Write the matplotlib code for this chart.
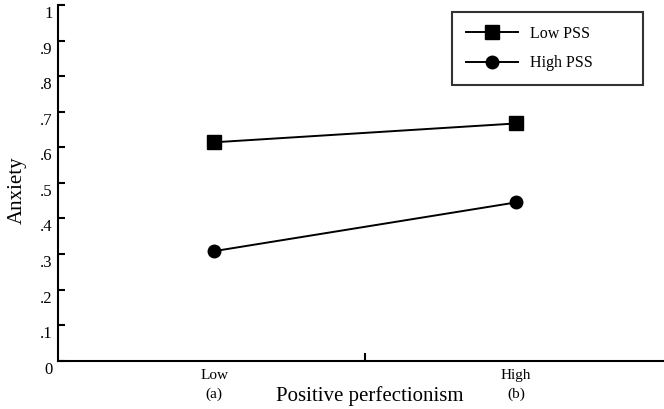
import numpy as np
import matplotlib.pyplot as plt
import matplotlib.transforms as mtransforms

plt.rcParams['font.family'] = ['Liberation Serif', 'DejaVu Serif']

# data
x_pos = [1, 2]
x_labels = ['Low\n(a)', 'High\n(b)']
low_pss = [0.614, 0.667]
high_pss = [0.308, 0.445]
y_ticks = [0, 0.1, 0.2, 0.3, 0.4, 0.5, 0.6, 0.7, 0.8, 0.9, 1.0]
y_labels = ['0', '.1', '.2', '.3', '.4', '.5', '.6', '.7', '.8', '.9', '1']

fig = plt.figure(figsize=(6.64, 4.09), dpi=100)
ax = fig.add_axes([58/664, 1 - 360.7/409, 1 - 58/664, (360.7 - 5)/409])

ax.plot(x_pos, low_pss, color='black', lw=1.4, marker='s', ms=9.5, label='Low PSS')
ax.plot(x_pos, high_pss, color='black', lw=1.4, marker='o', ms=9, label='High PSS')

ax.set_xlim(0.483, 2.49)
ax.set_ylim(0, 1)

for s in ['top', 'right']:
    ax.spines[s].set_visible(False)
for s in ['left', 'bottom']:
    ax.spines[s].set_linewidth(1.5)
ax.spines['left'].set_capstyle('projecting')

# y axis
ax.set_yticks(y_ticks)
ax.set_yticklabels(y_labels, fontsize=12)
ax.tick_params(axis='y', direction='in', length=5, width=1.5, pad=4)
offset = mtransforms.ScaledTranslation(0, -7/100, fig.dpi_scale_trans)
for lab in ax.get_yticklabels():
    lab.set_transform(lab.get_transform() + offset)

# x axis: one inward tick in the middle, labels at the two levels
ax.set_xticks([1.5])
ax.set_xticklabels([''])
ax.tick_params(axis='x', which='major', direction='in', length=6, width=1.5)
ax.set_xticks(x_pos, minor=True)
ax.set_xticklabels(x_labels, minor=True, fontsize=11, linespacing=1.55)
ax.tick_params(axis='x', which='minor', length=0, pad=6)

ax.set_ylabel('Anxiety', fontsize=15)
ax.yaxis.set_label_coords(-0.051, 0.48)
ax.set_xlabel('Positive perfectionism', fontsize=15)
ax.xaxis.set_label_coords(0.515, -0.072)

leg = ax.legend(loc='upper left', bbox_to_anchor=(452/664, 1 - 12.3/409, 191/664, 0),
                bbox_transform=fig.transFigure, borderaxespad=0, mode='expand',
                fontsize=11.5, handlelength=3.3, handletextpad=0.75,
                labelspacing=0.85, borderpad=0.85, fancybox=False,
                frameon=True)
leg.get_frame().set_edgecolor('black')
leg.get_frame().set_linewidth(1.5)

fig.savefig('out.png', dpi=100)
